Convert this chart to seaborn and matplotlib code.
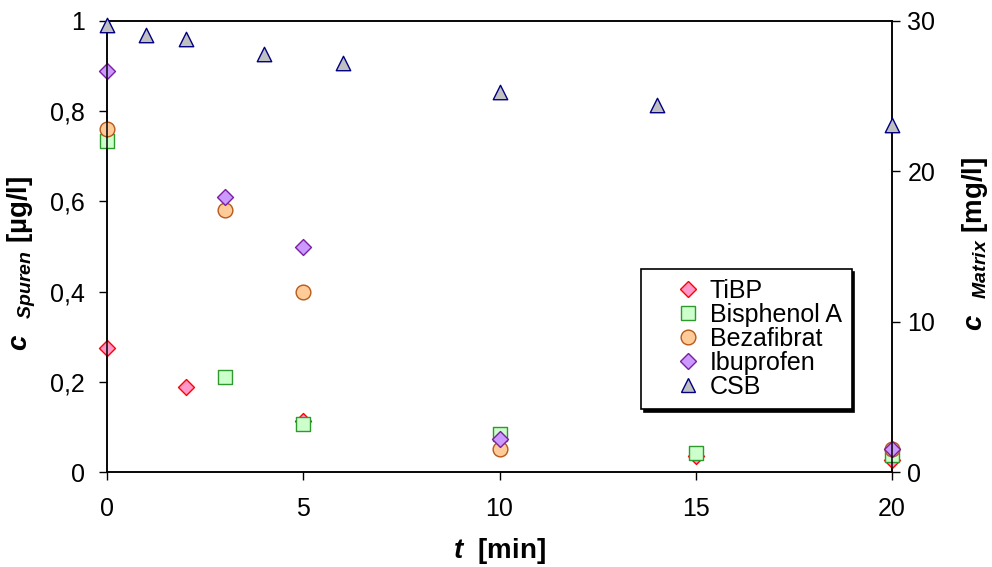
import matplotlib
matplotlib.use("Agg")
import matplotlib.pyplot as plt
import seaborn as sns
from matplotlib.lines import Line2D
from matplotlib.ticker import FixedLocator, FuncFormatter

# Trace substances, concentration in µg/l over time in min
t_tibp = [0, 2, 5, 15, 20]
c_tibp = [0.275, 0.188, 0.113, 0.036, 0.027]

t_bpa = [0, 3, 5, 10, 15, 20]
c_bpa = [0.735, 0.21, 0.107, 0.084, 0.043, 0.038]

t_beza = [0, 3, 5, 10, 20]
c_beza = [0.76, 0.58, 0.40, 0.051, 0.05]

t_ibu = [0, 3, 5, 10, 20]
c_ibu = [0.89, 0.61, 0.50, 0.073, 0.051]

# Matrix (CSB), concentration in mg/l
t_csb = [0, 1, 2, 4, 6, 10, 14, 20]
c_csb = [29.7, 29.1, 28.8, 27.8, 27.2, 25.3, 24.4, 23.1]

labels = ["TiBP", "Bisphenol A", "Bezafibrat", "Ibuprofen", "CSB"]
x_ticks = [0, 5, 10, 15, 20]
left_ticks = [0, 0.2, 0.4, 0.6, 0.8, 1.0]
right_ticks = [0, 10, 20, 30]

sns.set_style("white")
plt.rcParams["font.family"] = ["Liberation Sans", "DejaVu Sans"]
plt.rcParams["mathtext.fontset"] = "custom"
plt.rcParams["mathtext.it"] = "Liberation Sans:italic:bold"
plt.rcParams["mathtext.rm"] = "Liberation Sans:bold"
plt.rcParams["mathtext.bf"] = "Liberation Sans:bold"
for key in ("text.color", "axes.labelcolor", "xtick.color", "ytick.color",
            "xtick.labelcolor", "ytick.labelcolor"):
    plt.rcParams[key] = "black"

fig = plt.figure(figsize=(9.92, 5.67), dpi=100)
ax = fig.add_axes([0.1079, 0.1675, 0.7913, 0.7955])
ax2 = ax.twinx()

styles = [
    # marker, size, face, edge
    ("D", 66, "#FF99CC", "#FF0000"),
    ("s", 88, "#CCFFCC", "#2E9A2E"),
    ("o", 112, "#FFCC99", "#B8581A"),
    ("D", 66, "#CC99FF", "#7A1FA0"),
    ("^", 108, "#C0C0C0", "#000080"),
]

series = [(t_tibp, c_tibp, ax), (t_bpa, c_bpa, ax), (t_beza, c_beza, ax),
          (t_ibu, c_ibu, ax), (t_csb, c_csb, ax2)]

for i, ((tx, cy, target), (mk, sz, fc, ec)) in enumerate(zip(series, styles)):
    sns.scatterplot(x=tx, y=cy, ax=target, marker=mk, s=sz, color=fc,
                    edgecolor=ec, linewidth=1.0, clip_on=False, zorder=3 + i,
                    legend=False)

ax.set_xlim(0, 20)
ax.set_ylim(0, 1)
ax2.set_ylim(0, 30)

ax.xaxis.set_major_locator(FixedLocator(x_ticks))
ax.yaxis.set_major_locator(FixedLocator(left_ticks))
ax2.yaxis.set_major_locator(FixedLocator(right_ticks))


def comma_fmt(v, pos):
    if abs(v - round(v)) < 1e-9:
        return f"{int(round(v))}"
    return f"{v:.1f}".replace(".", ",")


ax.yaxis.set_major_formatter(FuncFormatter(comma_fmt))
ax.xaxis.set_major_formatter(FuncFormatter(lambda v, p: f"{int(v)}"))
ax2.yaxis.set_major_formatter(FuncFormatter(lambda v, p: f"{int(v)}"))

for a in (ax, ax2):
    for sp in a.spines.values():
        sp.set_visible(True)
        sp.set_color("black")
        sp.set_linewidth(1.1)

ax.tick_params(axis="y", direction="out", length=6, width=1, labelsize=18,
               pad=10, color="black", left=True)
ax.tick_params(axis="x", direction="out", length=6, width=1, labelsize=18,
               pad=12, color="black", bottom=True)
ax2.tick_params(axis="y", direction="out", length=6, width=1, labelsize=18,
                pad=5, color="black", right=True)

ax.set_xlabel(r"$t$  [min]", fontsize=20, fontweight="bold", labelpad=11)
ax.set_ylabel(r"$c_{\quad Spuren}$ [µg/l]", fontsize=20,
              fontweight="bold")
ax.yaxis.set_label_coords(-0.088, 0.463)
ax2.set_ylabel(r"$c_{\quad Matrix}$ [mg/l]", fontsize=20,
               fontweight="bold")
ax2.yaxis.set_label_coords(1.087, 0.505)

handles = [
    Line2D([], [], linestyle="none", marker=mk, markersize=sz ** 0.5,
           markerfacecolor=fc, markeredgecolor=ec, markeredgewidth=1.0)
    for (mk, sz, fc, ec) in styles
]
leg = ax2.legend(handles, labels, loc="upper left",
                 bbox_to_anchor=(0.680, 0.450), bbox_transform=ax.transAxes,
                 borderaxespad=0, fancybox=False, fontsize=18,
                 handlelength=3.0, handletextpad=-0.65, borderpad=0.4,
                 labelspacing=0.0, frameon=True,
                 shadow={"color": "black", "alpha": 1.0})
leg.get_frame().set_edgecolor("black")
leg.get_frame().set_linewidth(1.2)
leg.get_frame().set_facecolor("white")
leg.set_zorder(20)

fig.savefig("out.png", dpi=100)
